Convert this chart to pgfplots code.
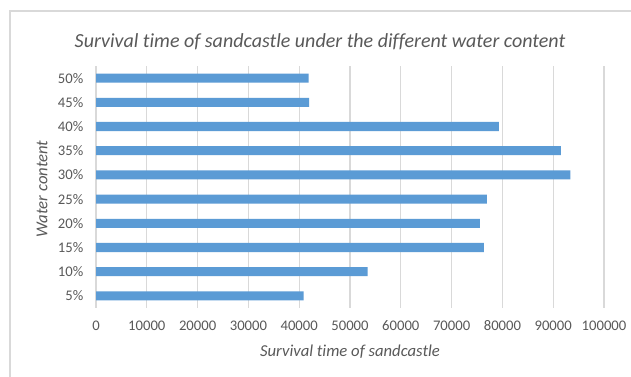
\documentclass[border=0pt]{standalone}
\usepackage{pgfplots}
\pgfplotsset{compat=1.18}
\usepackage{fontspec}
\setmainfont{Carlito}[Ligatures=NoCommon]
\definecolor{barblue}{RGB}{91,155,213}
\definecolor{txtgray}{RGB}{89,89,89}
\definecolor{gridgray}{RGB}{217,217,217}
\definecolor{framegray}{RGB}{217,217,217}
\begin{document}
\begin{tikzpicture}[x=0.75pt,y=0.75pt]
\useasboundingbox (0,0) rectangle (631,377);
\fill[white] (0,0) rectangle (631,377);
\draw[framegray,line width=0.8pt] (10,0) -- (10,366) -- (631,366);
\begin{axis}[
  at={(72pt,51.75pt)}, anchor=south west,
  scale only axis,
  width=381pt, height=181.5pt,
  xbar, bar width=6.8pt,
  xmin=0, xmax=100000,
  ymin=-0.5, ymax=9.5,
  xtick={0,10000,...,100000},
  ytick={0,...,9},
  yticklabels={5\%,10\%,15\%,20\%,25\%,30\%,35\%,40\%,45\%,50\%},
  scaled x ticks=false,
  /pgf/number format/.cd, fixed, 1000 sep={}, assume math mode=true,
  /pgfplots/.cd,
  xmajorgrids, grid style={gridgray, line width=0.8pt},
  axis x line*=bottom,
  x axis line style={draw=none},
  axis y line*=left,
  y axis line style={draw=gridgray, line width=0.8pt, -},
  major tick length=0pt,
  tick style={draw=none},
  ticklabel style={font=\fontsize{11}{13}\selectfont, text=txtgray},
  xticklabel style={yshift=-6pt},
  yticklabel style={xshift=-6pt},
  clip=false,
]
\addplot[fill=barblue, draw=none] coordinates {
  (40850,0) (53470,1) (76350,2) (75560,3) (76940,4)
  (93400,5) (91500,6) (79300,7) (41970,8) (41835,9)
};
\end{axis}
\node[text=txtgray, font=\fontsize{15}{17}\selectfont\itshape] at (320,335) {Survival time of sandcastle under the different water content};
\node[text=txtgray, font=\fontsize{12.5}{14}\selectfont\itshape] at (350,25) {Survival time of sandcastle};
\node[text=txtgray, font=\fontsize{12.5}{14}\selectfont\itshape, rotate=90] at (42,188) {Water content};
\end{tikzpicture}
\end{document}
